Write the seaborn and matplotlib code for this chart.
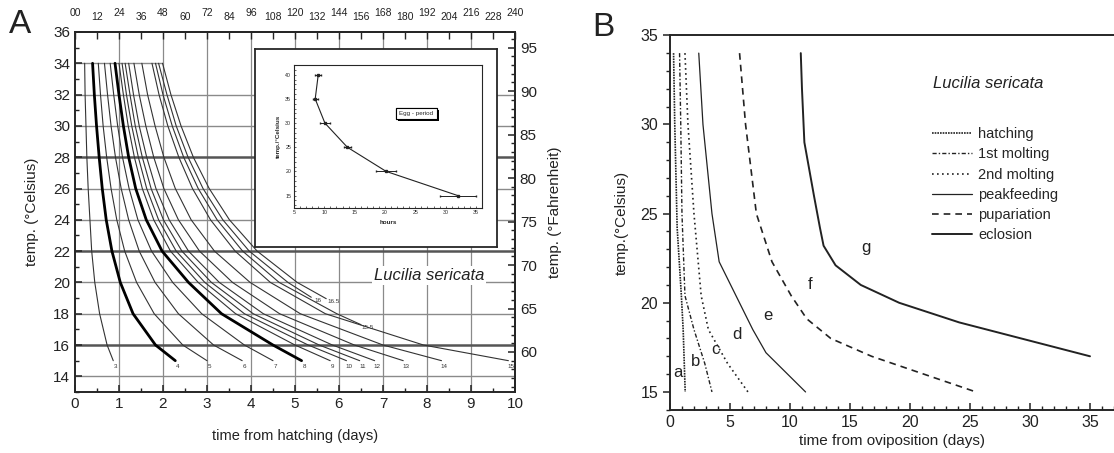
import seaborn as sns
import matplotlib.pyplot as plt
from matplotlib.ticker import MultipleLocator, FixedLocator
from matplotlib.lines import Line2D
from matplotlib import patheffects

# ---------------- panel A: larval length curves (mm) ----------------
temps_a = [34, 32, 30, 28, 26, 24, 22, 20, 18, 16, 15]
len_3 = [0.22, 0.23, 0.25, 0.27, 0.30, 0.34, 0.38, 0.45, 0.56, 0.73, 0.87]
len_4 = [0.40, 0.44, 0.49, 0.55, 0.62, 0.71, 0.84, 1.03, 1.32, 1.83, 2.28]
len_5 = [0.53, 0.58, 0.64, 0.72, 0.82, 0.95, 1.13, 1.40, 1.80, 2.45, 3.00]
len_6 = [0.67, 0.74, 0.82, 0.92, 1.05, 1.22, 1.46, 1.82, 2.35, 3.15, 3.80]
len_7 = [0.80, 0.88, 0.97, 1.08, 1.23, 1.43, 1.74, 2.22, 2.88, 3.85, 4.50]
len_8 = [0.91, 1.00, 1.10, 1.22, 1.38, 1.62, 1.98, 2.58, 3.33, 4.50, 5.15]
len_9 = [1.00, 1.10, 1.21, 1.35, 1.53, 1.79, 2.17, 2.80, 3.65, 5.00, 5.80]
len_10 = [1.07, 1.17, 1.29, 1.44, 1.63, 1.90, 2.30, 2.95, 3.85, 5.30, 6.17]
len_11 = [1.14, 1.25, 1.37, 1.53, 1.73, 2.01, 2.43, 3.10, 4.05, 5.55, 6.47]
len_12 = [1.22, 1.33, 1.46, 1.63, 1.84, 2.14, 2.58, 3.28, 4.28, 5.85, 6.81]
len_13 = [1.34, 1.46, 1.61, 1.79, 2.02, 2.35, 2.83, 3.58, 4.65, 6.35, 7.46]
len_14 = [1.52, 1.65, 1.82, 2.02, 2.28, 2.64, 3.17, 3.98, 5.12, 7.00, 8.33]
len_15 = [1.75, 1.91, 2.11, 2.36, 2.67, 3.08, 3.64, 4.44, 5.69, 7.92, 9.85]

temps_155 = [34, 32, 30, 28, 26, 24, 22, 20, 18, 17.3]
len_155 = [1.83, 2.00, 2.21, 2.47, 2.80, 3.23, 3.81, 4.64, 5.95, 6.50]
temps_16 = [34, 32, 30, 28, 26, 24, 22, 20, 19.05]
len_16 = [1.90, 2.09, 2.30, 2.57, 2.91, 3.36, 3.96, 4.84, 5.37]
temps_165 = [34, 32, 30, 28, 26, 24, 22, 20, 18.96]
len_165 = [1.99, 2.18, 2.41, 2.69, 3.05, 3.51, 4.14, 5.05, 5.71]

# inset: egg period
egg_hours = [9.0, 8.5, 10.1, 13.8, 20.2, 32.0]
egg_temps = [40, 35, 30, 25, 20, 15]
egg_err = [0.5, 0.4, 0.8, 0.6, 1.6, 3.0]

hour_ticks = list(range(0, 241, 12))
hour_labels = ["00"] + [str(h) for h in hour_ticks[1:]]

# ---------------- panel B: development stages ----------------
hatch_days = [0.3, 0.4, 0.6, 0.95, 1.1, 1.27]
hatch_temps = [34, 30, 24.2, 20.4, 18.5, 15]
molt1_days = [0.8, 0.9, 1.0, 1.25, 2.0, 2.9, 3.5]
molt1_temps = [34, 30, 25, 20.4, 18.5, 16.6, 15]
molt2_days = [1.25, 1.5, 2.0, 2.6, 3.2, 4.8, 6.5]
molt2_temps = [34, 30, 25, 20.4, 18.5, 16.6, 15]
peak_days = [2.4, 2.75, 3.5, 4.1, 5.5, 6.9, 8.0, 11.3]
peak_temps = [34, 30, 25, 22.3, 20.4, 18.5, 17.2, 15]
pupa_days = [5.8, 6.3, 7.2, 8.5, 10.1, 11.4, 13.4, 16.8, 25.5]
pupa_temps = [34, 30, 25, 22.3, 20.4, 19.1, 18.0, 17.0, 15]
eclo_days = [10.9, 11.0, 11.2, 12.0, 12.5, 12.8, 13.8, 15.9, 19.1, 24.1, 35.0]
eclo_temps = [34, 32, 29, 26, 24.2, 23.2, 22.1, 21.0, 20, 18.9, 17]

stage_letters = ["a", "b", "c", "d", "e", "f", "g"]
letter_days = [0.7, 2.15, 3.8, 5.55, 8.2, 11.7, 16.3]
letter_temps = [16.1, 16.7, 17.4, 18.2, 19.3, 21.0, 23.1]


def main():
    sns.set_style("ticks")
    plt.rcParams["font.family"] = ["Liberation Sans", "DejaVu Sans"]
    plt.rcParams["axes.linewidth"] = 1.4
    ink = "#222222"

    fig = plt.figure(figsize=(11.14, 4.53), dpi=100)

    # ===== panel A =====
    ax = fig.add_axes([0.0673, 0.1347, 0.395, 0.7947])
    ax.set_xlim(0, 10)
    ax.set_ylim(13, 36)

    # grid
    for d in range(1, 10):
        ax.axvline(d, color="#8a8a8a", lw=0.9, zorder=0)
    for t in range(14, 34, 2):
        heavy = t in (28, 22, 16)
        ax.axhline(t, color="#555555" if heavy else "#8a8a8a",
                   lw=1.8 if heavy else 1.0, zorder=0)
    ax.hlines(34, 0, 2.01, color="#8a8a8a", lw=1.0, zorder=0)

    curves = [("3", len_3, temps_a), ("4", len_4, temps_a), ("5", len_5, temps_a),
              ("6", len_6, temps_a), ("7", len_7, temps_a), ("8", len_8, temps_a),
              ("9", len_9, temps_a), ("10", len_10, temps_a), ("11", len_11, temps_a),
              ("12", len_12, temps_a), ("13", len_13, temps_a), ("14", len_14, temps_a),
              ("15", len_15, temps_a), ("15.5", len_155, temps_155),
              ("16", len_16, temps_16), ("16.5", len_165, temps_165)]
    for name, days, temps in curves:
        thick = name in ("4", "8")
        sns.lineplot(x=days, y=temps, sort=False, estimator=None, ax=ax,
                     color="black" if thick else "#333333",
                     lw=2.0 if thick else 0.8, zorder=2)
        if temps[-1] == 15:
            ax.text(days[-1] + 0.06, 14.65, name, fontsize=4.5, ha="center",
                    va="center", color="#333333")
        else:
            ax.text(days[-1] + 0.16, temps[-1] - 0.2, name, fontsize=4.5,
                    ha="center", va="center", color="#333333")

    ax.text(8.05, 20.45, "Lucilia sericata", style="italic", fontsize=12,
            ha="center", va="center", color=ink,
            bbox=dict(fc="white", ec="none", pad=1.5), zorder=3)

    ax.set_xticks(range(0, 11))
    ax.xaxis.set_minor_locator(MultipleLocator(0.5))
    ax.set_yticks(range(14, 37, 2))
    ax.yaxis.set_minor_locator(MultipleLocator(1))
    ax.tick_params(which="both", direction="in", labelsize=11, colors=ink)
    ax.tick_params(which="major", length=5, width=1.1)
    ax.tick_params(which="minor", length=3, width=1.0)
    ax.set_xlabel("time from hatching (days)", fontsize=10.5, color=ink, labelpad=13)
    ax.set_ylabel("temp. (°Celsius)", fontsize=11, color=ink, labelpad=10)

    top = ax.secondary_xaxis("top", functions=(lambda d: d * 24, lambda h: h / 24))
    top.xaxis.set_major_locator(FixedLocator(hour_ticks))
    top.tick_params(direction="in", length=5, width=1.0, labeltop=False)
    for i, (h, lab) in enumerate(zip(hour_ticks, hour_labels)):
        ax.text(h / 24, 1.04 if i % 2 == 0 else 1.028, lab, fontsize=7.5,
                ha="center", va="bottom", color=ink,
                transform=ax.get_xaxis_transform())

    right = ax.secondary_yaxis("right", functions=(lambda c: c * 1.8 + 32,
                                                   lambda f: (f - 32) / 1.8))
    right.yaxis.set_major_locator(FixedLocator(range(60, 96, 5)))
    right.yaxis.set_minor_locator(MultipleLocator(1))
    right.tick_params(which="both", direction="in", labelsize=11, colors=ink)
    right.tick_params(which="major", length=5, width=1.1)
    right.tick_params(which="minor", length=3, width=1.0)
    right.set_ylabel("temp. (°Fahrenheit)", fontsize=11, color=ink, labelpad=8)

    ax.text(-0.125, 1.02, "A", transform=ax.transAxes, fontsize=24,
            ha="center", va="center", color=ink)

    # inset
    box = ax.inset_axes([0.41, 0.402, 0.548, 0.55])
    box.set_zorder(5)
    box.set_facecolor("white")
    box.set_xticks([])
    box.set_yticks([])
    for s in box.spines.values():
        s.set_linewidth(1.3)
    ins = box.inset_axes([0.16, 0.2, 0.78, 0.72])
    ins.set_xlim(5, 36)
    ins.set_ylim(12.5, 42)
    sns.lineplot(x=egg_hours, y=egg_temps, sort=False, estimator=None, ax=ins,
                 color=ink, lw=0.8)
    ins.errorbar(egg_hours, egg_temps, xerr=egg_err, fmt="s", ms=1.5,
                 color=ink, elinewidth=0.7, capsize=1)
    ins.set_xticks(range(5, 36, 5))
    ins.set_yticks(range(15, 41, 5))
    ins.xaxis.set_minor_locator(MultipleLocator(1))
    ins.yaxis.set_minor_locator(MultipleLocator(1))
    ins.tick_params(which="both", direction="in", labelsize=3.8, width=0.5,
                    length=1.5, pad=2)
    for s in ins.spines.values():
        s.set_linewidth(0.8)
    ins.set_xlabel("hours", fontsize=4.5, fontweight="bold", labelpad=3)
    ins.set_ylabel("temp./°Celsius", fontsize=4.5, fontweight="bold", labelpad=3)
    eg = ins.text(25.2, 32, "Egg - period", fontsize=4.5, ha="center", va="center",
                  bbox=dict(boxstyle="square,pad=0.5", fc="white", ec="black", lw=0.8))
    eg.get_bbox_patch().set_path_effects([
        patheffects.withSimplePatchShadow(offset=(1.5, -1.5), shadow_rgbFace="black",
                                          alpha=1.0),
        patheffects.Normal()])

    # ===== panel B =====
    bx = fig.add_axes([0.6014, 0.0954, 0.3986, 0.8267])
    bx.set_xlim(0, 37.0)
    bx.set_ylim(14, 35)
    bx.spines["right"].set_visible(False)

    stages = [("hatching", hatch_days, hatch_temps, (0, (1, 0.6)), 1.2),
              ("1st molting", molt1_days, molt1_temps, (0, (3, 1.5, 1, 1.5)), 1.0),
              ("2nd molting", molt2_days, molt2_temps, (0, (1, 2)), 1.2),
              ("peakfeeding", peak_days, peak_temps, "-", 0.9),
              ("pupariation", pupa_days, pupa_temps, (0, (4, 3)), 1.2),
              ("eclosion", eclo_days, eclo_temps, "-", 1.4)]
    handles = []
    for name, days, temps, ls, lw in stages:
        sns.lineplot(x=days, y=temps, sort=False, estimator=None, ax=bx,
                     color=ink, lw=lw, linestyle=ls)
        handles.append(Line2D([], [], color=ink, lw=lw, linestyle=ls, label=name))

    for let, d, t in zip(stage_letters, letter_days, letter_temps):
        bx.text(d, t, let, fontsize=12, ha="center", va="center", color=ink)

    bx.text(21.9, 32.3, "Lucilia sericata", style="italic", fontsize=12,
            ha="left", va="center", color=ink)
    bx.legend(handles=handles, loc="upper left", bbox_to_anchor=(21.8, 29.85),
              bbox_transform=bx.transData, frameon=False, fontsize=10.5,
              handlelength=2.8, handletextpad=0.4, labelspacing=0.43,
              borderpad=0, borderaxespad=0)

    bx.set_xticks(range(0, 36, 5))
    bx.xaxis.set_minor_locator(MultipleLocator(1))
    bx.set_yticks(range(15, 36, 5))
    bx.yaxis.set_minor_locator(MultipleLocator(1))
    bx.tick_params(axis="x", which="both", direction="in", labelsize=11.5, colors=ink)
    bx.tick_params(axis="y", which="both", direction="out", labelsize=11.5, colors=ink)
    bx.tick_params(which="major", length=5, width=1.1)
    bx.tick_params(which="minor", length=3, width=1.0)
    bx.set_xlabel("time from oviposition (days)", fontsize=11, color=ink, labelpad=3)
    bx.set_ylabel("temp.(°Celsius)", fontsize=11, color=ink, labelpad=8)
    bx.text(-0.15, 1.02, "B", transform=bx.transAxes, fontsize=24,
            ha="center", va="center", color=ink)

    plt.savefig("out.png", dpi=100)


if __name__ == "__main__":

    main()
